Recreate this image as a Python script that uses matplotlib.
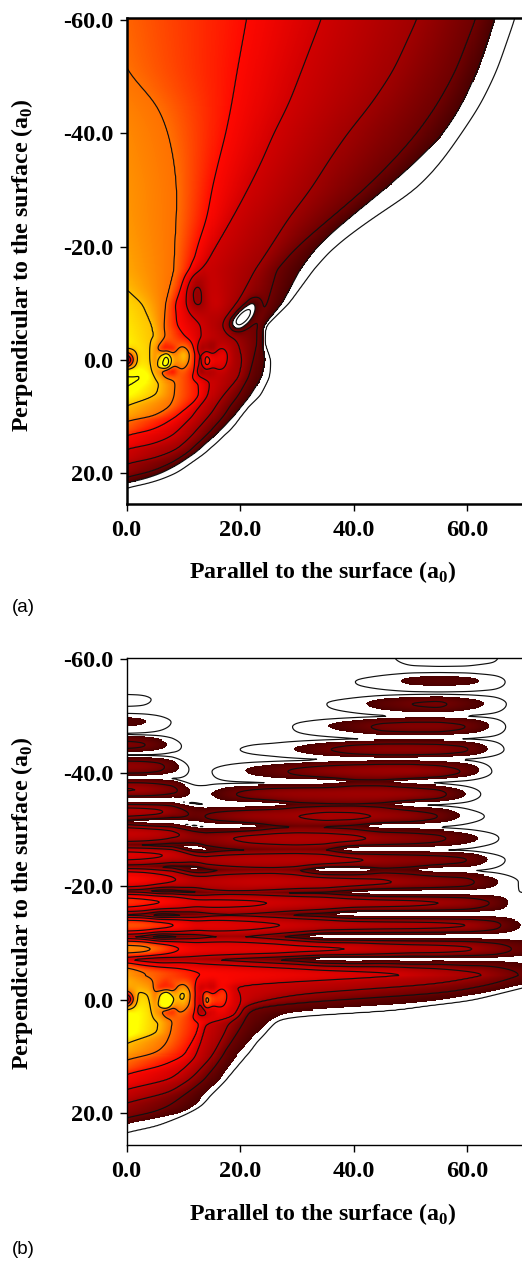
import numpy as np
import matplotlib
matplotlib.use("Agg")
import matplotlib.pyplot as plt
from matplotlib.colors import LinearSegmentedColormap

# ---------- values ----------
# Panel (a): x position where each contour level crosses a row z (negative = level not reached)
z_a = [-62,-51,-45,-40,-35,-30,-25,-20,-16,-10,-6,-3,0,3,6.4,
       8,9,10,10.7,11.5,12.5,13.2,14,15,15.6,16.5,17.5,18.2,19.2,20,20.6,21.2,21.6,22,22.5,26]
a_v0 = [69,65.2,62.3,59,55.5,51,43.3,36.5,33,28.6,24.5,24.3,25.4,25.2,23.5,
        21.7,20.9,20.1,19.6,19,18.1,17.3,16.5,15.4,14.7,13.7,12.3,11.3,9.9,8.6,7.2,5.7,4.3,3,0,-5]
a_v1 = [65.5,61.8,59,55.9,51,45.3,39.1,33.4,30.6,27.4,24.1,23.9,24.4,23.8,21.7,
        20.4,19.6,18.8,18.1,17.4,16.4,15.6,14.8,13.6,13,11.9,10.4,9.4,7.6,6,4.3,2.4,0,-1.5,-3,-8]
a_v2 = [62.2,58,54.7,51.2,46.8,41.8,35.9,30,26.5,24.8,23,23,22.3,21.5,19.6,
        18.3,17.7,17,16.4,15.7,14.8,14.1,13.3,12.2,11.6,10.5,9,7.8,5.6,3.2,0,-1,-2,-3,-5,-11]
a_v3 = [52,47,43,38.9,35.5,32.4,28.5,25.4,22.7,19.5,16.9,19.7,20.4,19.8,16.9,
        15.8,15.2,14.4,13.8,13.1,12.2,11.6,10.8,9.7,9,7.2,4.2,0,-1,-2,-3,-4,-5,-6,-8,-14]
a_v4 = [35,30.8,28.5,25.9,23.8,21.3,18.6,15.7,13.3,15.7,13,13.3,13.8,14.8,14.3,
        13,12.2,11.5,10.8,10,9,8.2,6.8,4,0,-1,-2,-3,-4,-5,-6,-7,-8,-9,-10,-17]
a_v5 = [21.5,19.5,18.5,17.5,16.2,15,14.2,12.4,11.6,8.6,8.9,11.2,12.6,12.5,12.8,
        11.2,9.9,8.7,7.6,6.3,4,0,-1,-2,-3,-4,-5,-6,-7,-8,-9,-10,-11,-12,-13,-20]
a_v6 = [-3.7,0,5.5,7.4,8.4,8.9,8.8,8.5,8.4,6.9,6.6,6.9,6.3,8.6,8.4,
        7.8,6.5,4.5,0,-1,-2,-3,-4,-5,-6,-7,-8,-9,-10,-11,-12,-13,-14,-15,-16,-25]
a_v7 = [-30,-30,-22,-16,-14,-11,-10,-6,-4,2.75,4.5,5,5.5,5.9,5.3,
        0,-1.5,-3,-4,-5,-6,-7,-8,-9,-10,-11,-12,-13,-14,-15,-16,-17,-18,-19,-20,-30]
a_v8 = [-50,-50,-42,-36,-30,-26,-22,-18,-14,-10,-8,-5,-3,3.2,-3,
        -10,-11,-12,-13,-14,-15,-16,-17,-18,-19,-20,-21,-22,-23,-24,-25,-26,-27,-28,-29,-40]

# Panel (b), lower part: same kind of table
z_b = [-7,-4.3,-2.6,-1.1,.4,1.2,1.6,2.2,2.7,3.2,
       4.2,6,7.7,9,9.8,10.5,11.8,13.1,14.2,15.8,16.5,18.2,18.9,20,20.8,21.9,22.5,23.4,26]
b_v0 = [80,78,72,66,60,52,50,47,33,27.5,
        26,24.4,22.8,21.9,21.2,20.6,19.5,18.4,17.5,16,15.2,13.7,13,11,9.3,6.5,5,0,-6]
b_v1 = [76,74,69.7,63,54,46,35,28,27,26,
        24.5,22.8,21.3,20.2,19.4,18.9,17.9,17,16.3,14.7,13.9,12.4,11.6,9.5,6,0,-2,-4,-8]
b_v2 = [72,69.5,64,56,32,24,22.5,21.7,21.3,21,
        20.5,19.4,18.3,17.4,17,16.5,15.6,14.5,13.6,11.6,10.6,8.3,7.2,4.5,0,-3,-5,-7,-11]
b_v3 = [65,63.5,54,31,23,20.8,20.6,20.3,20,19.6,
        18,17.2,16.3,15.6,15.1,14.6,13.4,12.2,11,8.5,7.2,0,-2,-4,-6,-8,-9,-10,-14]
b_v4 = [50,52,19,20,20.2,19.8,19.7,19.3,19,18.5,
        14,13.5,13,12.5,12.2,11.8,10.5,9,7.4,0,-2,-4,-6,-8,-10,-11,-12,-13,-17]
b_v5 = [13,13,12.8,12.4,12.6,13,13,13,12.8,12.6,
        12.8,12.3,11.4,10.6,10.2,9,6,0,-2,-4,-6,-8,-10,-12,-13,-14,-15,-16,-20]
b_v6 = [0,3,7,8.5,9,9.2,9.2,9,8.8,8.5,
        8,7.7,7,5.8,4.2,0,-2,-4,-6,-8,-10,-12,-14,-16,-17,-18,-19,-20,-25]
b_v7 = [-8,-3,-.8,3.5,4.8,5.2,5.4,5.6,5.7,5.7,
        5.6,5.3,0,-2,-4,-6,-8,-10,-12,-14,-15,-16,-18,-20,-21,-22,-23,-24,-30]
b_v8 = [-14,-9,-7,-2.7,-1.4,-1,-.8,-.6,-.5,-.5,
        -.6,-.9,-6,-8,-10,-12,-14,-16,-18,-20,-21,-22,-24,-26,-27,-28,-29,-30,-36]

# Panel (b), fringes: level value along x on band centres and on the gaps between them
x_fr = [0,3,6,9,12,15,18,22,26,30,35,40,45,50,55,60,65,70]
z_fr = [-60.5,-58,-56,-54,-52.1,-50,-48.1,-46,-44.1,-42.3,-40.2,-38.2,-36.2,-34.3,-32.3,-30.4,
        -28.4,-26.4,-24.6,-22.7,-20.7,-18.8,-17,-14.9,-13.1,-11.1,-8.9,-7]
fr = [
 [-2,-2,-2,-2,-2,-2,-2,-2,-2,-2,-2,-2,-.4,.5,.6,.6,.25,-2],
 [-2,-2,-2,-2,-2,-2,-2,-2,-2,-2,-2,-2,-1.2,-.7,-.6,-.7,-1.2,-2],
 [-2,-2,-2,-2,-2,-2,-2,-2,-2,-2,-1.5,0,.6,1.25,1.4,1.25,.6,-1.2],
 [-1,-1.2,-2,-2,-2,-2,-2,-2,-2,-2,-2,-1.3,-.8,-.5,-.4,-.5,-.8,-2],
 [.3,.25,-.3,-2,-2,-2,-2,-2,-2,-1.5,0,.65,1.5,2,2.2,1.5,.6,-1],
 [-.6,-.7,-1,-2,-2,-2,-2,-2,-2,-1.5,-1,-.6,-.2,.2,.2,-.1,-.5,-1.5],
 [1.3,1.1,.5,-.3,-2,-2,-2,-2,-.8,.2,.95,1.6,2.25,2.4,2.4,2,.65,-1.2],
 [-.2,-.3,-.5,-1.2,-2,-2,-1.5,-1,-1,-.8,-.5,-.1,.25,.3,.25,-.1,-.5,-1.5],
 [2.3,2.1,1.4,.3,-1,-2,-.2,.2,.5,1.1,1.9,2.4,2.6,2.6,2.5,2.1,.5,-1.2],
 [-.1,-.1,-.3,-.7,-1.5,-1.2,-1,-.8,-.6,-.4,-.05,.3,.5,.5,.2,-.2,-1,-2],
 [2.7,2.6,2.3,1.1,-.6,0,.5,1.2,1.7,2.2,2.6,2.8,2.9,2.9,2.6,1.8,-.3,-1.5],
 [.3,.4,.2,-.2,-1,-.3,-.2,-.2,.05,.1,.2,1.25,1.25,.4,-.2,-1,-2,-2],
 [3.05,2.95,2.6,2.1,.5,1,1.8,2.4,2.7,2.85,2.9,2.95,2.95,2.8,2.4,.9,-1,-2],
 [.1,.1,.1,.1,-.2,.1,.1,.1,.5,1.4,1.7,1.8,1.5,.2,-.2,-.8,-2,-2],
 [3.4,3.3,3.1,2.5,1.7,2.2,2.5,2.8,2.9,2.98,3.2,3.15,2.9,2.6,2,.6,-.4,-2],
 [1.2,.6,.1,.1,-.2,.1,.1,.6,1.7,2,1.9,1.5,.2,.15,-.1,-.7,-1.5,-2],
 [3.8,3.7,3.5,3.05,2.6,2.7,2.95,3.2,3.3,3.35,3.3,3.15,2.8,2.55,2.2,1.4,.2,-1.5],
 [2,1.9,1.6,1.3,.1,1.3,1.8,2,2.2,2.3,2.1,.1,.05,.1,0,-.3,-1.3,-2],
 [4.3,4.2,4.05,3.7,3.2,3.3,3.4,3.5,3.5,3.5,3.4,3.1,2.8,2.6,2.4,2.05,.5,-1],
 [2.4,2.3,1.9,1.5,.6,1.8,2.2,2.4,2.5,2.2,.1,.1,1.5,1.2,.1,.1,-.5,-1.5],
 [5,4.8,4.4,3.95,3.5,3.6,3.7,3.8,3.75,3.6,3.5,3.3,3.1,2.8,2.6,2.3,1.1,-.3],
 [2.6,2.4,1.4,1.7,1.8,2.4,2.6,2.5,2.2,1.9,1.8,.9,.1,.1,.1,.1,.1,0],
 [5.4,5.2,5,4.6,4.2,4.2,4.15,4.1,3.95,3.8,3.6,3.4,3.3,3.2,3,2.7,1.8,-.1],
 [2.8,2.6,1.2,1.8,2,2.7,2.9,2.7,2.3,1.8,1.3,.1,.1,.1,.1,.1,.1,.1],
 [5.7,5.6,5.3,4.9,4.4,4.4,4.3,4.2,4.05,3.85,3.6,3.45,3.35,3.3,3.2,3,2.3,.7],
 [3.1,2.7,1.2,2,2.3,2.9,3.1,2.9,2.3,1.5,.1,.1,.1,.1,.1,.1,.1,.1],
 [6.3,6.2,5.7,5,4.6,4.5,4.45,4.4,4.35,4.2,4.1,3.95,3.6,3.4,3.3,3.1,2.5,1.6],
 [4.2,3.5,3,3.3,3.3,3,2.8,2.4,2,1.5,.4,.2,.5,.2,.5,.2,.5,.2],
]

# Local changes of level around the atoms (both panels)
atom_x = list(range(21))
atom_z = [-4,-3,-2,-1,0,1,2,3,4]
atom_dv = [
 [0]*21,
 [0,0,0,0,0,-.3,-.45,-.6,0,.15,.45,.3,0,-.45,-.45,-.75,0,.15,.15,0,0],
 [-.45,-.3,0,0,0,-.6,-1.2,-.9,-.75,.45,.9,.6,0,-1.2,-.6,-.9,.3,.6,.3,0,0],
 [-2.4,-1.2,-.15,0,0,-.75,.45,1.8,.45,.9,1.8,.9,0,-.75,1.2,.3,.75,1.2,.45,0,0],
 [-5.4,-1.95,-.15,0,0,-.9,.75,3.5,.9,.9,1.5,.75,0,-1.35,1.95,.9,.9,1.05,.45,0,0],
 [-2.4,-1.2,-.15,0,0,-.75,.9,3,.3,.45,.9,.45,0,-1.5,1.5,.45,.6,.75,.3,0,0],
 [-.45,-.3,0,0,0,-.6,-.9,-1.35,-1.2,0,.3,0,0,-2.4,-.75,-.6,.15,.3,0,0,0],
 [0,0,0,0,0,-.3,-.45,-.75,-.45,0,0,0,-.45,-.75,-.75,-.3,0,0,0,0,0],
 [0]*21,
]
# Dark pocket and white island of panel (a)
dip_x = [9,10,11,12,13,14,15,16]
dip_z = [-18,-16,-14,-12,-10,-8,-6]
dip_dv = [
 [0,0,0,0,0,0,0,0],
 [0,0,-.1,-.3,-.2,0,0,0],
 [0,-.2,-.7,-1.3,-1.1,-.4,0,0],
 [0,-.3,-1.2,-1.9,-1.6,-.6,-.1,0],
 [0,-.4,-1.1,-1.7,-1.6,-.8,-.2,0],
 [0,-.2,-.5,-.6,-.6,-.5,-.3,0],
 [0,0,0,0,0,0,0,0],
]
isl_x = [17,18,19,20,21,22,23,24]
isl_z = [-12,-11,-10,-9,-8,-7,-6,-5,-4]
isl_dv = [
 [0,0,0,0,0,0,0,0],
 [0,0,0,0,0,-.5,-.5,0],
 [0,0,0,0,-.6,-1.8,-1,0],
 [0,0,0,-.7,-2.5,-2.8,-.6,0],
 [0,0,-.6,-3,-4.2,-2,0,0],
 [0,-.4,-2.5,-4.2,-2.8,-.5,0,0],
 [0,-.6,-2.5,-2.5,-.7,0,0,0],
 [0,-.2,-.6,-.4,0,0,0,0],
 [0,0,0,0,0,0,0,0],
]

xticks = [0, 20, 40, 60]
yticks = [-60, -40, -20, 0, 20]
xticklabels = ["0.0", "20.0", "40.0", "60.0"]
yticklabels = ["-60.0", "-40.0", "-20.0", "0.0", "20.0"]
color_levels = [1, 2, 3, 4, 5, 6, 7, 7.6, 8]
color_values = ["#4a0000", "#6e0000", "#a00000", "#d00000", "#ff0800", "#ff7000", "#ffc000", "#ffff00", "#ffff00"]

# ---------- field building ----------
STEP = 0.18
xf = np.arange(0, 70.01, STEP)
zf = np.arange(-62, 27.01, STEP)


def smooth1d(a, sigma, axis=0):
    n = int(3 * sigma / STEP) + 1
    k = np.exp(-0.5 * (np.arange(-n, n + 1) * STEP / sigma) ** 2)
    k /= k.sum()
    def f(v):
        return np.convolve(np.pad(v, n, mode="edge"), k, mode="valid")
    return np.apply_along_axis(f, axis, a)


def crossing_field(z_rows, tables, z_soft_top, z_soft_bot, s_top, s_mid, s_bot):
    tab = np.array(tables, float)              # levels 0..8, rows z
    cross = np.array([np.interp(zf, z_rows, t) for t in tab]).T
    c_top = smooth1d(cross, s_top, 0)
    c_mid = smooth1d(cross, s_mid, 0)
    c_bot = smooth1d(cross, s_bot, 0)
    w_top = np.clip((z_soft_top - zf) / 4, 0, 1)[:, None]
    w_bot = np.clip((zf - z_soft_bot) / 3, 0, 1)[:, None]
    cross = c_mid * (1 - w_top) * (1 - w_bot) + c_top * w_top + c_bot * w_bot
    levels = np.arange(tab.shape[0], dtype=float)
    out = np.empty((zf.size, xf.size))
    for j, row in enumerate(cross):
        c = row[::-1]                          # from the highest level to 0
        c = np.maximum.accumulate(c + np.arange(c.size) * 1e-4)
        xp = np.concatenate([[c[0] - 30], c, [c[-1] + 3, c[-1] + 40]])
        fp = np.concatenate([[levels[-1] + 1], levels[::-1], [-1, -3]])
        out[j] = np.interp(xf, xp, fp)
    return out


def patch(x_p, z_p, dv, sigma):
    t = np.array(dv, float)
    rows = np.array([np.interp(xf, x_p, r, left=0, right=0) for r in t])
    out = np.array([np.interp(zf, z_p, rows[:, i], left=0, right=0) for i in range(xf.size)]).T
    return smooth1d(smooth1d(out, sigma, 0), sigma, 1)


def fringe_field(base):
    j_seam = np.argmin(np.abs(zf + 4.3))
    rows = [smooth1d(np.interp(xf, x_fr, r), 0.8, 0) for r in fr] + [base[j_seam]]
    rows = np.array(rows)
    zr = np.array(z_fr + [-4.3])
    out = base.copy()
    zz = zf[:j_seam]
    for i, x in enumerate(xf):
        shift = 0.8 * np.clip((14 - x) / 6, 0, 1) * np.clip((-zz - 15) / 10, 0, 1)
        ze = np.clip(zz + shift, zr[0], zr[-1])
        s = np.clip(np.searchsorted(zr, ze) - 1, 0, zr.size - 2)
        t = (ze - zr[s]) / (zr[s + 1] - zr[s])
        gap_first = (s % 2 == 1)               # even rows are centres, odd rows gaps
        w = np.where(gap_first, 1 - (1 - t) ** 2, t ** 2)
        w = np.where(s == zr.size - 2, 1 - (1 - t) ** 2, w)
        out[:j_seam, i] = rows[s, i] * (1 - w) + rows[s + 1, i] * w
    return out


atoms = patch(atom_x, atom_z, atom_dv, 0.35)
V_a = crossing_field(z_a, [a_v0, a_v1, a_v2, a_v3, a_v4, a_v5, a_v6, a_v7, a_v8], -16, 7, 1.8, 0.6, 0.3) + atoms
V_a += patch(dip_x, dip_z, dip_dv, 0.5) + patch(isl_x, isl_z, isl_dv, 0.4)
base_b = crossing_field(z_b, [b_v0, b_v1, b_v2, b_v3, b_v4, b_v5, b_v6, b_v7, b_v8], -40, 3, 0.4, 0.4, 0.4)
V_b = fringe_field(base_b) + atoms

# ---------- drawing ----------
plt.rcParams["font.family"] = ["Liberation Serif", "DejaVu Serif"]
plt.rcParams["mathtext.fontset"] = "custom"
plt.rcParams["mathtext.bf"] = "Liberation Serif:bold"
plt.rcParams["mathtext.rm"] = "Liberation Serif:bold"

W, H = 522, 1262
fig = plt.figure(figsize=(W / 100, H / 100), dpi=100)
nodes = [(v - 1) / 7 for v in color_levels]
cmap = LinearSegmentedColormap.from_list("rho", list(zip(nodes, color_values)), N=512)
cmap.set_under("white")
cmap.set_over("#ffff00")


def panel(V, top, bottom, zero_px, lw_frame, contour_levels, ylabel_center, xlabel_y, tag, tag_y):
    ax = fig.add_axes([126.5 / W, 1 - bottom / H, (W - 126.5) / W, (bottom - top) / H])
    ax.imshow(V, extent=[xf[0] - STEP / 2, xf[-1] + STEP / 2, zf[-1] + STEP / 2, zf[0] - STEP / 2],
              cmap=cmap, vmin=1, vmax=8, aspect="auto", interpolation="nearest", zorder=1)
    ax.contour(xf, zf, V, levels=contour_levels, colors="#111111", linewidths=0.85, zorder=2)
    ax.set_xlim(0, (W - 126.5) / 5.68)
    ax.set_ylim((bottom - zero_px) / 5.67, (top - zero_px) / 5.67)
    ax.spines["right"].set_visible(False)
    for s in ["left", "top", "bottom"]:
        ax.spines[s].set_linewidth(lw_frame)
        ax.spines[s].set_zorder(5)
    ax.set_xticks(xticks, xticklabels)
    ax.set_yticks(yticks, yticklabels)
    ax.tick_params(axis="y", length=5.2, width=1.0, labelsize=17.5, pad=4)
    ax.tick_params(axis="x", length=5.2, width=1.0, labelsize=17.5, pad=6.5)
    for t in ax.get_xticklabels() + ax.get_yticklabels():
        t.set_fontweight("bold")
    fig.text(323 / W, 1 - xlabel_y / H, r"Parallel to the surface (a$_{\mathbf{0}}$)",
             fontsize=17.2, fontweight="bold", ha="center", va="center")
    fig.text(22 / W, 1 - ylabel_center / H, r"Perpendicular to the surface (a$_{\mathbf{0}}$)",
             fontsize=17.2, fontweight="bold", rotation=90, ha="center", va="center")
    fig.text(12 / W, 1 - tag_y / H, tag, fontsize=13.5, family="Liberation Sans", ha="left", va="center")
    return ax


panel(V_a, 18, 504, 360, 1.8, [0, 1, 2, 3, 4, 5, 6, 7, 8], 265, 572, "(a)", 607)
panel(V_b, 658, 1145, 999.5, 1.0, [0, 2, 3, 4, 5, 6, 7], 903, 1214, "(b)", 1250)

fig.savefig("out.png", dpi=100)
